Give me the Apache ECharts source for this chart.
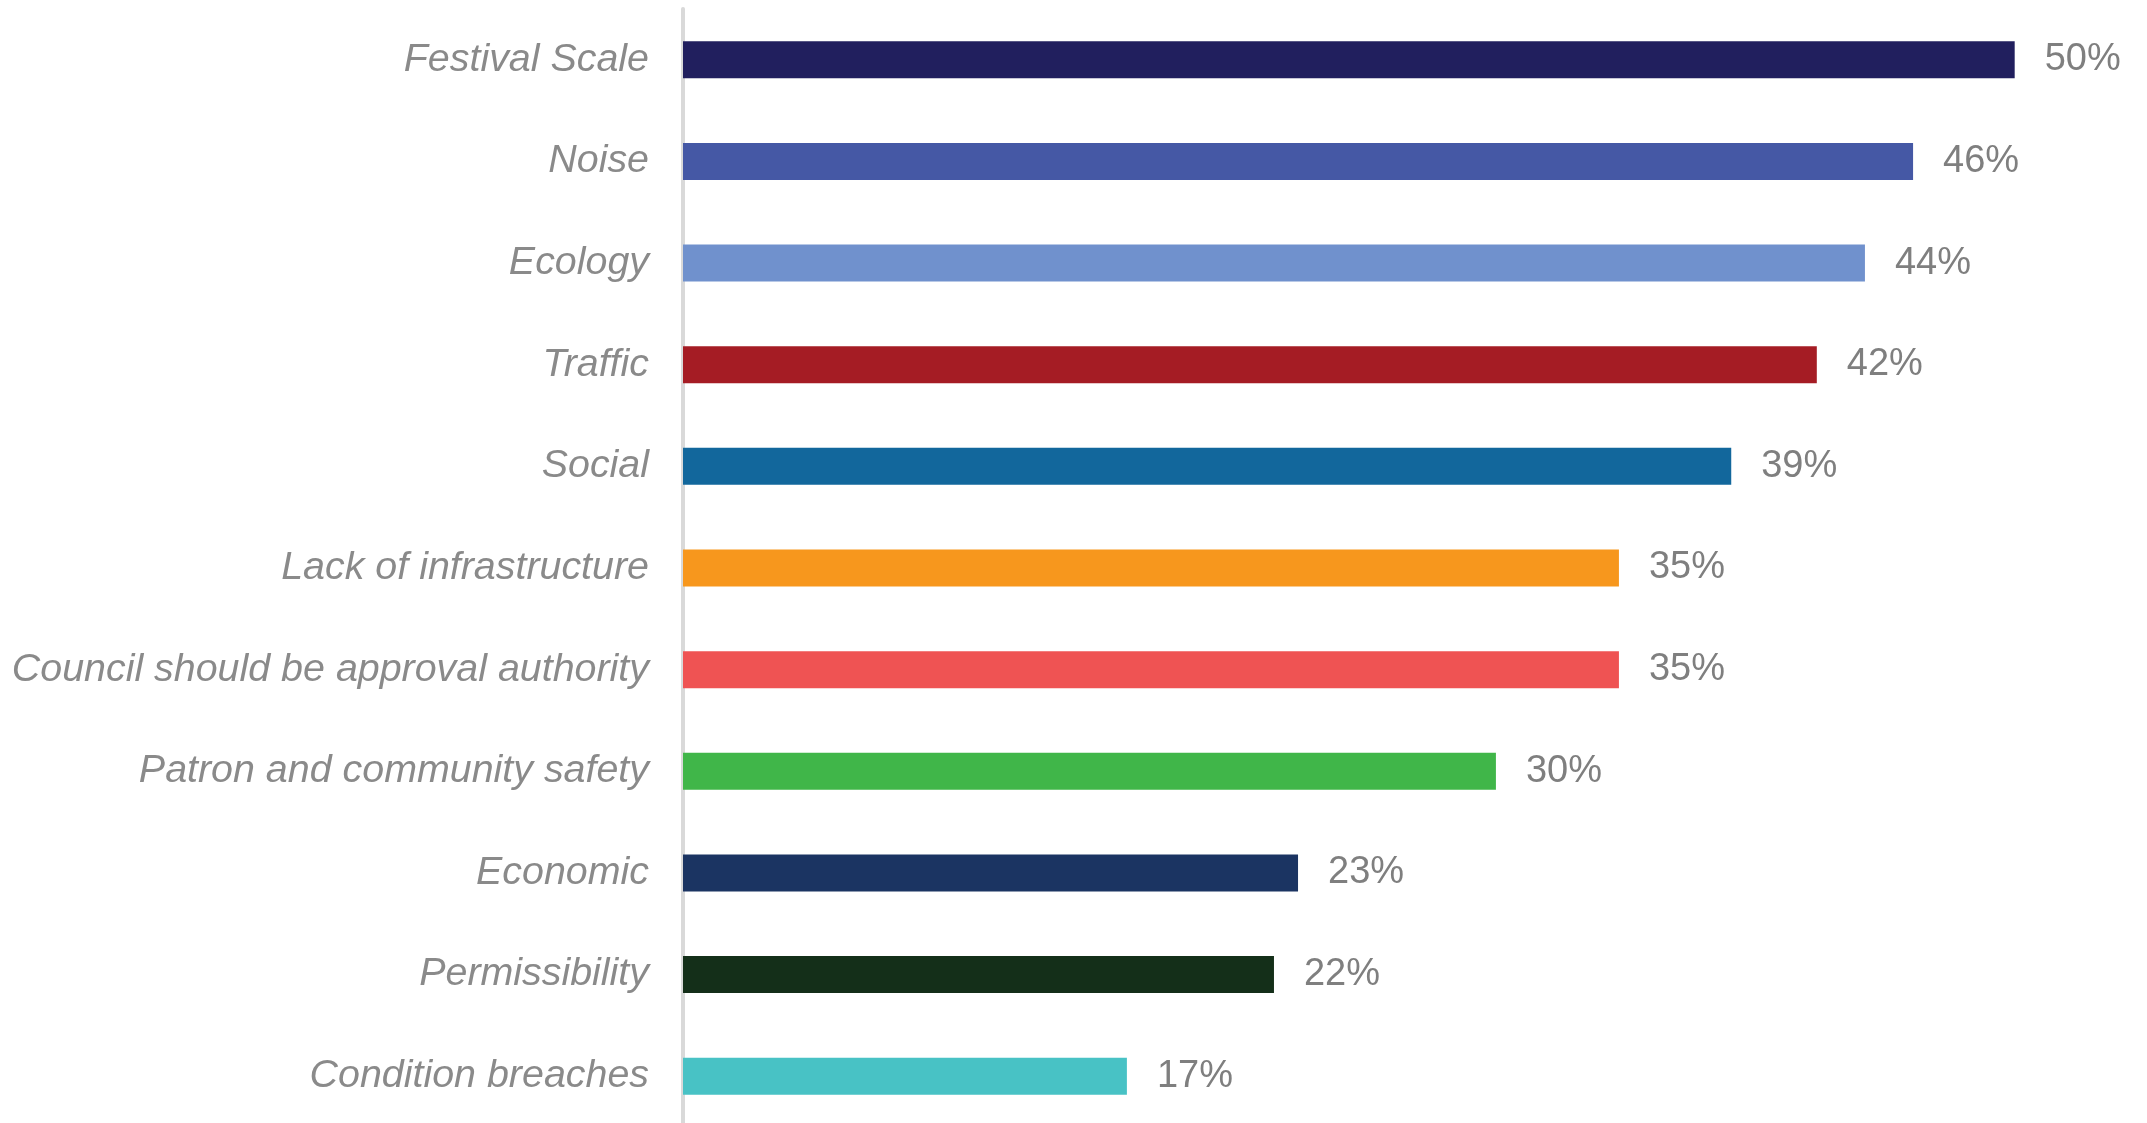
<!DOCTYPE html>
<html>
<head>
<meta charset="utf-8">
<title>Concerns</title>
<script src="https://cdn.jsdelivr.net/npm/echarts@6/dist/echarts.min.js"></script>
<style>
html,body{margin:0;padding:0;background:#fff;overflow:hidden;}
#chart{width:2147px;height:1130px;}
</style>
</head>
<body>
<div id="chart"></div>
<script>
// categories top to bottom
var categories = ['Festival Scale','Noise','Ecology','Traffic','Social','Lack of infrastructure',
	'Council should be approval authority','Patron and community safety','Economic','Permissibility','Condition breaches'];
// percentages (labels show them rounded)
var values = [49.8, 46.0, 44.2, 42.4, 39.2, 35.0, 35.0, 30.4, 23.0, 22.1, 16.6];
var colors = ['#211f5e','#4558a5','#7091cd','#a51c24','#12679c','#f7971d',
	'#ef5353','#40b649','#1b3462','#142f19','#48c2c5'];

var font = '"Liberation Sans", Arial, sans-serif';
var seriesData = [];
for(var i=0;i<values.length;i++){
	seriesData.push({value: values[i], itemStyle: {color: colors[i]}});
}

var myChart = echarts.init(document.getElementById('chart'));
var option = {
	backgroundColor: '#fff',
	animation: false,
	grid: {
		left: 683,
		right: 20,
		top: 9,
		height: 1118
	},
	xAxis: {
		type: 'value',
		min: 0,
		max: 54,
		show: false
	},
	yAxis: {
		type: 'category',
		inverse: true,
		data: categories,
		axisTick: {show: false},
		axisLine: {
			show: true,
			lineStyle: {color: '#d9d9d9', width: 4}
		},
		axisLabel: {
			margin: 34,
			color: '#8a8a8a',
			fontStyle: 'italic',
			fontSize: 39.4,
			fontFamily: font
		}
	},
	series: [{
		type: 'bar',
		barWidth: 37,
		data: seriesData,
		label: {
			show: true,
			position: 'right',
			distance: 30,
			color: '#7f7f7f',
			fontSize: 38,
			fontFamily: font,
			formatter: function(p){ return Math.round(p.value) + '%'; }
		}
	}]
};
myChart.setOption(option, true);
</script>
</body>
</html>
